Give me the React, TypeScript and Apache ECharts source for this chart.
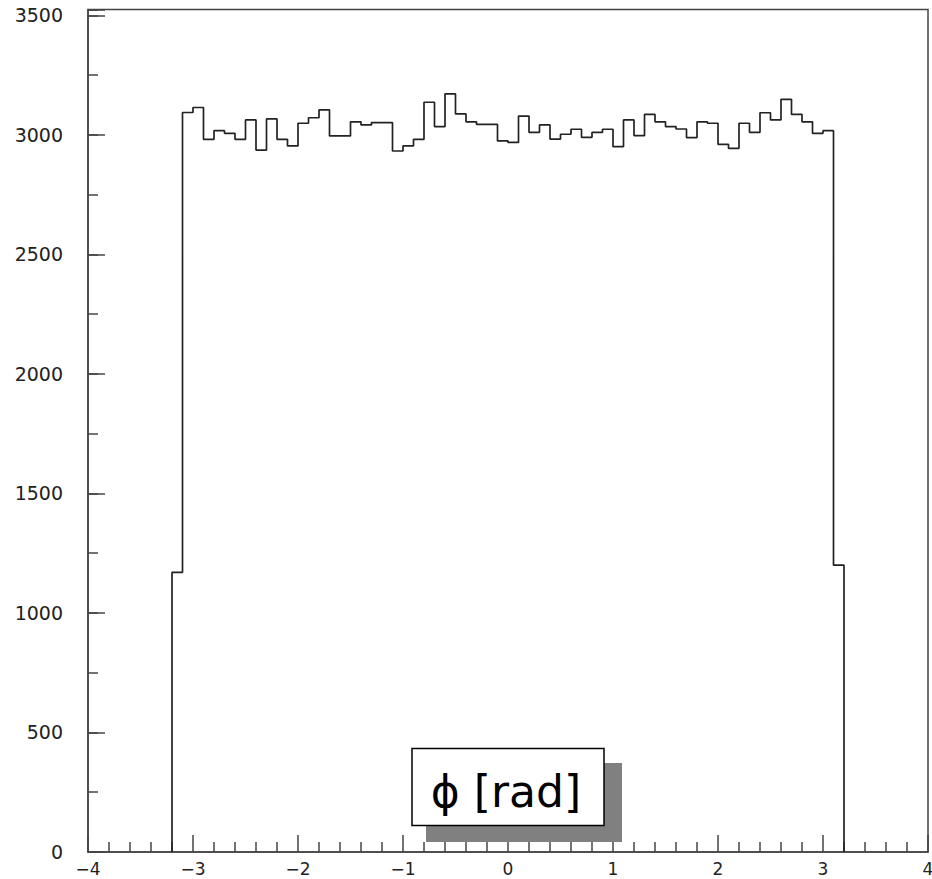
import React, { useEffect, useRef } from "react";
import * as echarts from "echarts";

// Histogram of phi [rad]: 64 bins of width 0.1 from -3.2 to 3.2
const binLow = -3.2;
const binWidth = 0.1;
const counts = [
  1170, 3094, 3115, 2982, 3018, 3007, 2982, 3063, 2937, 3067,
  2982, 2954, 3049, 3072, 3105, 2996, 2996, 3055, 3042, 3052,
  3052, 2933, 2954, 2982, 3137, 3035, 3172, 3088, 3055, 3044,
  3044, 2975, 2969, 3079, 3011, 3042, 2983, 3003, 3024, 2990,
  3011, 3024, 2951, 3063, 2997, 3086, 3055, 3035, 3025, 2989,
  3055, 3049, 2961, 2944, 3049, 3011, 3093, 3063, 3149, 3086,
  3055, 3007, 3018, 1200,
];
const xRange = [-4, 4];
const yRange = [0, 3525];
const yMajorStep = 500;
const yMinorStep = 250;
const titleText = "\u03D5 [rad]";

export default function App() {
  const ref = useRef<HTMLDivElement>(null);
  useEffect(() => {
    if (!ref.current) return;
    const chart = echarts.init(ref.current, null, { renderer: "svg" });
    const pts: [number, number][] = [[binLow, 0]];
    counts.forEach((c, i) => {
      const lo = +(binLow + i * binWidth).toFixed(4);
      const hi = +(binLow + (i + 1) * binWidth).toFixed(4);
      pts.push([lo, c], [hi, c]);
    });
    pts.push([+(binLow + counts.length * binWidth).toFixed(4), 0]);

    const axisColor = "#444";
    const lineStyle = { color: axisColor, width: 1.5 };

    chart.setOption({
      animation: false,
      backgroundColor: "#fff",
      grid: {
        left: 88,
        right: 4,
        top: 9.5,
        bottom: 27,
        show: true,
        borderColor: axisColor,
        borderWidth: 1.5,
        containLabel: false,
        outerBoundsMode: "none",
      },
      xAxis: [
        {
          type: "value",
          min: xRange[0],
          max: xRange[1],
          interval: 1,
          position: "bottom",
          axisLine: { show: true, onZero: false, lineStyle },
          axisTick: { show: true, inside: true, length: 17, lineStyle },
          minorTick: { show: true, splitNumber: 5, length: 10, lineStyle },
          splitLine: { show: false },
          minorSplitLine: { show: false },
          axisLabel: {
            fontFamily: "DejaVu Sans",
            fontSize: 17,
            color: "#222",
            margin: 8,
            showMinLabel: true,
            showMaxLabel: true,
            formatter: (v: number) => String(v).replace("-", "\u2212"),
          },
        },
      ],
      yAxis: [
        {
          type: "value",
          min: yRange[0],
          max: yRange[1],
          interval: yMajorStep,
          position: "left",
          axisLine: { show: true, onZero: false, lineStyle },
          axisTick: { show: true, inside: true, length: 17, lineStyle },
          splitLine: { show: false },
          axisLabel: {
            fontFamily: "DejaVu Sans",
            fontSize: 19,
            color: "#222",
            margin: 25,
            showMaxLabel: true,
            formatter: (v: number) => (v % yMajorStep === 0 ? String(v) : ""),
          },
        },
        {
          type: "value",
          min: yRange[0],
          max: yRange[1],
          interval: yMinorStep,
          position: "left",
          offset: 0,
          axisLine: { show: false, onZero: false },
          axisTick: { show: true, inside: true, length: 10, lineStyle },
          splitLine: { show: false },
          axisLabel: { show: false },
        },
      ],
      series: [
        {
          type: "line",
          data: pts,
          xAxisIndex: 0,
          yAxisIndex: 0,
          symbol: "none",
          showSymbol: false,
          lineStyle: { color: "#222", width: 1.7 },
          z: 3,
        },
      ],
      graphic: [
        {
          type: "rect",
          shape: { x: 426, y: 763, width: 196, height: 79 },
          style: { fill: "#808080" },
          z: 10,
        },
        {
          type: "rect",
          shape: { x: 412, y: 748.5, width: 192, height: 77 },
          style: { fill: "#fff", stroke: "#000", lineWidth: 1.5 },
          z: 11,
        },
        {
          type: "text",
          x: 506,
          y: 791,
          style: {
            text: titleText,
            fontFamily: "DejaVu Sans",
            fontSize: 44,
            fill: "#000",
            align: "center",
            verticalAlign: "middle",
          },
          z: 12,
        },
      ],
    });
    return () => chart.dispose();
  }, []);
  return (
    <div
      ref={ref}
      style={{ position: "fixed", left: 0, top: 0, width: 932, height: 879 }}
    />
  );
}
